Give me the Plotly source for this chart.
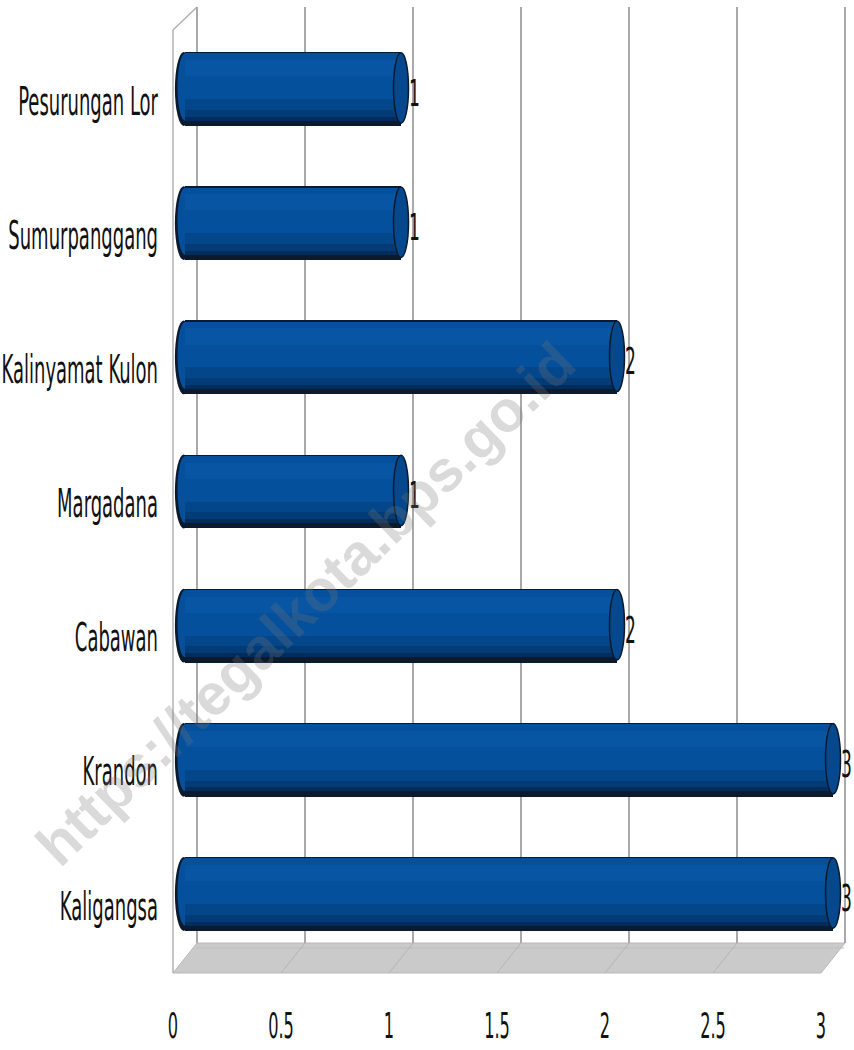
import plotly.graph_objects as go

# ---- data -------------------------------------------------------------
districts = ["Pesurungan Lor", "Sumurpanggang", "Kalinyamat Kulon", "Margadana",
             "Cabawan", "Krandon", "Kaligangsa"]
counts = [1, 1, 2, 1, 2, 3, 3]
x_ticks = [0, 0.5, 1, 1.5, 2, 2.5, 3]
x_tick_text = ["0", "0.5", "1", "1.5", "2", "2.5", "3"]

# ---- page geometry (pixels) -------------------------------------------
W, H = 854, 1050
PLOT_LEFT = 173          # front-left edge of the box
ZERO_PX = 185            # where a cylinder starts
UNIT_PX = 216            # pixels per unit on the value axis
DEPTH_PX = 12            # half depth of the pseudo-3D box
TOP_PX = 7
FLOOR_BACK_PX = 943
FLOOR_FRONT_PX = 973
ROW0_PX = 892            # centre of the lowest row
ROW_PX = 134.17          # distance between rows

FONT = "DejaVu Sans Condensed, Liberation Sans Narrow, Arial Narrow, sans-serif"

n = len(districts)
ypos = [n - 1 - i for i in range(n)]

x_range = [(PLOT_LEFT - ZERO_PX) / UNIT_PX, (W - ZERO_PX) / UNIT_PX]
y_r0 = -(FLOOR_BACK_PX - ROW0_PX) / ROW_PX
y_r1 = y_r0 + (FLOOR_BACK_PX - TOP_PX) / ROW_PX


def px_x(px):
    return px / W


def px_y(py):
    return 1 - py / H


def val_px(v):
    return ZERO_PX + v * UNIT_PX


fig = go.Figure()

# cylinder body built from stacked bands: dark rim, body, shading
bands = [
    (0.55, -0.29, "#0b1a2c"),
    (0.50, -0.25, "#04509c"),
    (0.16, -0.25, "#03468a"),
    (0.08, -0.25, "#033b77"),
    (0.03, -0.25, "#022c5c"),
    (0.12, 0.08, "#0755a3"),
]
for width, offset, color in bands:
    fig.add_trace(go.Bar(
        x=counts, y=ypos, orientation="h",
        width=width, offset=offset,
        marker=dict(color=color, line=dict(width=0)),
        hoverinfo="skip", showlegend=False,
    ))

# back-wall grid drawn on an overlaid axis shifted by the box depth
fig.add_trace(go.Scatter(x=[0], y=[0], xaxis="x2", mode="markers",
                         marker=dict(opacity=0), hoverinfo="skip",
                         showlegend=False))

shapes = []
cap = 7.5 / UNIT_PX
for v, y in zip(counts, ypos):
    # rounded left end
    shapes.append(dict(type="circle", xref="x", yref="y", layer="below",
                       x0=-cap - 0.012, x1=cap, y0=y - 0.29, y1=y + 0.26,
                       fillcolor="#0b1a2c", line=dict(width=0)))
    shapes.append(dict(type="circle", xref="x", yref="y", layer="below",
                       x0=-cap, x1=cap, y0=y - 0.25, y1=y + 0.25,
                       fillcolor="#04509c", line=dict(width=0)))
    # end face of the cylinder
    shapes.append(dict(type="circle", xref="x", yref="y", layer="above",
                       x0=v - cap, x1=v + cap, y0=y - 0.27, y1=y + 0.255,
                       fillcolor="#05488d", line=dict(color="#0b1a2c", width=1.5)))

# floor slab
x_back = [val_px(t) + DEPTH_PX for t in x_ticks]
x_front = [val_px(t) - DEPTH_PX for t in x_ticks]
shapes.append(dict(
    type="path", xref="paper", yref="paper", layer="below",
    path=(f"M {px_x(x_back[0])},{px_y(FLOOR_BACK_PX)} "
          f"L {px_x(x_back[-1])},{px_y(FLOOR_BACK_PX)} "
          f"L {px_x(x_front[-1])},{px_y(FLOOR_FRONT_PX)} "
          f"L {px_x(x_front[0])},{px_y(FLOOR_FRONT_PX)} Z"),
    fillcolor="#cacaca", line=dict(color="#b8b8b8", width=1)))
shapes.append(dict(type="line", xref="paper", yref="paper", layer="below",
                   x0=px_x(x_back[0] - 1), x1=px_x(x_back[-1] - 1),
                   y0=px_y(FLOOR_BACK_PX + 5), y1=px_y(FLOOR_BACK_PX + 5),
                   line=dict(color="#bdbdbd", width=1)))
for xb, xf in zip(x_back[1:-1], x_front[1:-1]):
    shapes.append(dict(type="line", xref="paper", yref="paper", layer="below",
                       x0=px_x(xb), y0=px_y(FLOOR_BACK_PX),
                       x1=px_x(xf), y1=px_y(FLOOR_FRONT_PX),
                       line=dict(color="#b4b4b4", width=1)))
# left wall edges
wall = dict(color="#b0b0b0", width=1.5)
shapes.append(dict(type="line", xref="paper", yref="paper", layer="below",
                   x0=px_x(x_front[0]), x1=px_x(x_front[0]),
                   y0=px_y(TOP_PX + 23), y1=px_y(FLOOR_FRONT_PX), line=wall))
shapes.append(dict(type="line", xref="paper", yref="paper", layer="below",
                   x0=px_x(x_front[0]), y0=px_y(TOP_PX + 23),
                   x1=px_x(x_back[0]), y1=px_y(TOP_PX), line=wall))

annotations = []
for v, y in zip(counts, ypos):
    annotations.append(dict(x=v, y=y, xref="x", yref="y", text=str(v),
                            showarrow=False, xanchor="left", xshift=6, yshift=-5,
                            font=dict(family=FONT, size=19, color="#111111")))
annotations.append(dict(
    x=px_x(305), y=px_y(603), xref="paper", yref="paper",
    text="<b>https://tegalkota.bps.go.id</b>", showarrow=False, textangle=-44,
    font=dict(family="Liberation Sans, Arial, sans-serif", size=58,
              color="rgba(120,120,120,0.27)")))

fig.update_layout(
    width=W, height=H,
    margin=dict(l=0, r=0, t=0, b=0, autoexpand=False),
    paper_bgcolor="white", plot_bgcolor="rgba(0,0,0,0)",
    barmode="overlay", bargap=0,
    showlegend=False,
    shapes=shapes, annotations=annotations,
    xaxis=dict(domain=[px_x(PLOT_LEFT), 1], range=x_range, automargin=False,
               showgrid=False, zeroline=False, showline=False,
               tickvals=x_ticks, ticktext=x_tick_text, ticks="",
               ticklabelshift=-DEPTH_PX, ticklabelstandoff=70,
               tickfont=dict(family=FONT, size=18, color="#111111")),
    xaxis2=dict(overlaying="x", domain=[px_x(PLOT_LEFT), 1], automargin=False,
                range=[r - DEPTH_PX / UNIT_PX for r in x_range],
                tickvals=x_ticks, showticklabels=False, ticks="",
                showgrid=True, gridcolor="#a9a9a9", gridwidth=2,
                zeroline=False, showline=False),
    yaxis=dict(domain=[px_y(FLOOR_BACK_PX), px_y(TOP_PX)], range=[y_r0, y_r1],
               automargin=False,
               tickvals=ypos, ticktext=districts, ticks="",
               showgrid=False, zeroline=False, showline=False,
               ticklabelstandoff=14, ticklabelshift=14,
               tickfont=dict(family=FONT, size=20, color="#111111")),
)

# the labels use a tall, narrow lettering: stretch each label vertically
# about its own centre once plotly has laid it out
stretch_js = """
(function(){
  var gd = document.getElementById('{plot_id}');
  function stretch(sel, s){
    gd.querySelectorAll(sel).forEach(function(t){
      var cur = t.getAttribute('transform') || '';
      if (t.getAttribute('data-stretched') === cur) return;
      var b = t.getBBox();
      var cy = b.y + b.height / 2;
      var nt = cur + ' translate(0,' + cy + ') scale(1,' + s + ') translate(0,' + (-cy) + ')';
      t.setAttribute('transform', nt);
      t.setAttribute('data-stretched', nt);
    });
  }
  function run(){
    stretch('.ytick text', 1.95);
    stretch('.xtick text', 1.95);
    stretch('g.annotation:not([data-index="7"]) text', 2.0);
  }
  run();
  gd.on('plotly_afterplot', run);
})();
"""

fig.write_html("out.html", post_script=stretch_js)
